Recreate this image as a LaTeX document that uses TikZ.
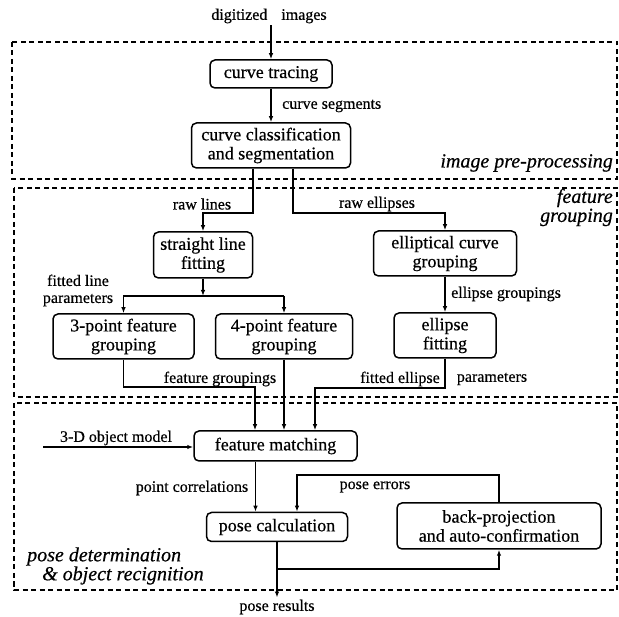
\documentclass[tikz,border=0pt]{standalone}
\usepackage{fontspec}
\setmainfont{Liberation Serif}[UprightFeatures={FakeBold=0.5},ItalicFeatures={FakeBold=0.5}]
\usetikzlibrary{arrows.meta,positioning,calc}

\begin{document}
\begin{tikzpicture}[x=1pt,y=-1pt,
          every node/.style={font=\fontsize{16}{17}\selectfont,inner sep=1pt},
          procbox/.style 2 args={draw,line width=1.5pt,rounded corners=5pt,
                         minimum width=#1,minimum height=#2,align=center,
                         font=\fontsize{18}{19}\selectfont},
          zonelbl/.style={font=\fontsize{20}{19}\selectfont\itshape},
          flow/.style={line width=1.3pt,-{Latex[length=6pt,width=4.5pt]}},
          zone/.style={line width=1.2pt,dash pattern=on 5pt off 3.5pt},
      ]
        \useasboundingbox (0,0) rectangle (619,617);

        % the three stages
        \draw[zone] (12,42) rectangle (617,179);
        \draw[zone] (14,188) rectangle (617,397);
        \draw[zone] (14,403) rectangle (617,590);
        \node[zonelbl,anchor=east] (zimg) at (614,163) {image pre-processing};
        \node[zonelbl,align=right,anchor=east] (zfeat) at (614,207.5) {feature\\grouping};
        \node[zonelbl,align=left,anchor=west] (zpose) at (26,566)
          {pose determination\\\hspace*{15pt}\& object recignition};

        % boxes
        \node[procbox={122pt}{28pt}] (trace) at (271,74) {curve tracing};
        \node[procbox={159pt}{45pt}] (classif) at (271,145.5) {curve classification\\and segmentation};
        \node[procbox={99pt}{46pt}] (sline) at (203,255) {straight line\\fitting};
        \node[procbox={143pt}{45pt}] (ecurve) at (445,253.5) {elliptical curve\\grouping};
        \node[procbox={141pt}{45pt}] (three) at (123.5,336.5) {3-point feature\\grouping};
        \node[procbox={137pt}{45pt}] (four) at (284,336.5) {4-point feature\\grouping};
        \node[procbox={102pt}{45pt}] (efit) at (445,335.5) {ellipse\\fitting};
        \node[procbox={163pt}{30pt}] (fmatch) at (275.5,446) {feature matching};
        \node[procbox={141pt}{29pt}] (pcalc) at (277,527) {pose calculation};
        \node[procbox={204pt}{46pt}] (bproj) at (499,526) {back-projection\\and auto-confirmation};

        % inputs and outputs
        \node[inner sep=2pt] (digit) at (269,16) {digitized\hspace{10pt} images};
        \node[inner sep=2pt] (presult) at (277,607) {pose results};
        \coordinate (model) at (43,447);

        % bend points
        \coordinate (rawL) at (253,213);
        \coordinate (rawR) at (293,213);
        \coordinate (jct) at (203,296);
        \coordinate (fgL) at (255,387);
        \coordinate (fgR) at (315,388);
        \coordinate (corr) at ([xshift=-20pt]fmatch.south);
        \coordinate (perr) at (297,475);
        \coordinate (fb) at (277,569);

        \draw[flow] (digit.south -| trace.north) -- (trace);
        \draw[flow] (trace) -- (classif);
        \draw[flow] (rawL |- classif.south) -- (rawL) -| (sline);
        \draw[flow] (rawR |- classif.south) -- (rawR) -| (ecurve);
        \draw[flow] (sline) -- (jct);
        \draw[flow] (jct -| four) -- (jct -| three) -- (three);
        \draw[flow] (jct -| four) -- (four);
        \draw[flow] (ecurve) -- (efit);
        \draw[flow] (three) |- (fgL) -- (fgL |- fmatch.north);
        \draw[flow] (four) -- (four |- fmatch.north);
        \draw[flow] (efit) |- (fgR) -- (fgR |- fmatch.north);
        \draw[flow] (model) -- (model -| fmatch.west);
        \draw[flow] (corr) -- (corr |- pcalc.north);
        \draw[flow] (bproj.north) |- (perr) -- (perr |- pcalc.north);
        \draw[flow] (pcalc) -- (presult);
        \draw[flow] (fb) -| (bproj);

        % connector labels
        \node[anchor=west] (lseg) at (281,106) {curve segments};
        \node (lrawl) at (202,204) {raw lines};
        \node (lrawe) at (377,204) {raw ellipses};
        \node[align=center] (lfline) at (78,290.5) {fitted line\\parameters};
        \node[anchor=west] (legrp) at (450,294) {ellipse groupings};
        \node (lfgrp) at (220,379) {feature groupings};
        \node (lfell) at (400,379) {fitted ellipse};
        \node (lfpar) at (492,379) {parameters};
        \node (lmodel) at (116,438) {3-D object model};
        \node (lcorr) at (192,488) {point correlations};
        \node (lperr) at (375,487) {pose errors};
      \end{tikzpicture}
\end{document}
